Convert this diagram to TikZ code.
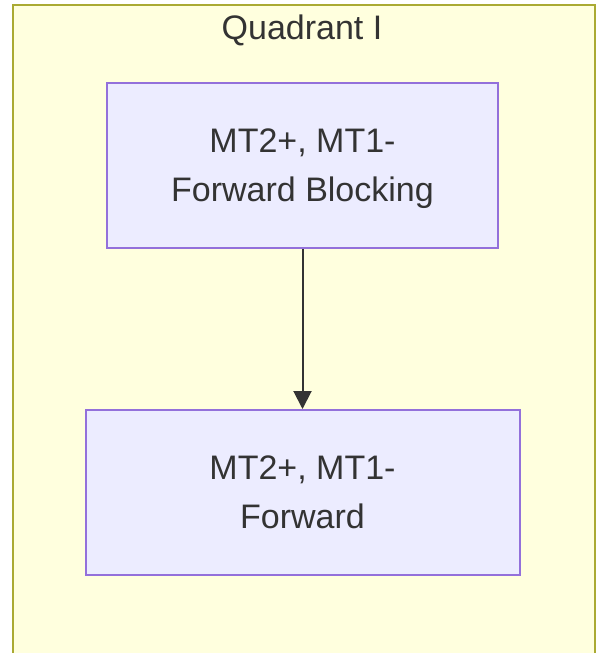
\documentclass[tikz,border=0pt]{standalone}
\usepackage{fontspec}
\setmainfont{Liberation Sans}
\usetikzlibrary{positioning,arrows.meta}
\definecolor{clusterfill}{HTML}{FFFFDE}
\definecolor{clusterline}{HTML}{AAAA33}
\definecolor{statefill}{HTML}{ECECFF}
\definecolor{stateline}{HTML}{9370DB}
\definecolor{edgeline}{HTML}{333333}
\tikzset{
    state/.style = {draw=stateline, fill=statefill, line width=2pt, text=edgeline, text depth=0pt,
                 minimum height=165pt, align=center, font=\fontsize{34}{49}\selectfont},
    cluster/.style = {draw=clusterline, fill=clusterfill, line width=2pt},
    title/.style = {text=edgeline, font=\fontsize{34}{49}\selectfont},
}

\begin{document}
\begin{tikzpicture}[x=1pt,y=-1pt,->,>={Triangle[length=18pt,width=18pt]}]
 \useasboundingbox (0,0) rectangle (601,653);
 \clip (0,0) rectangle (601,653);
 \node (quad) [cluster, anchor=north west, minimum width=582.5pt, minimum height=680pt] at (11.5,4) {};
 \node (title) [title] at (302,30) {Quadrant I};
 \node (n1) [state, minimum width=391pt] at (302.5,165.5) {MT2+, MT1-\\Forward Blocking};
 \node (n2) [state, minimum width=434pt, below=160pt of n1] {MT2+, MT1-\\Forward};

 \draw[->, draw=edgeline, fill=edgeline, line width=2pt] (n1) to (n2);
\end{tikzpicture}
\end{document}
